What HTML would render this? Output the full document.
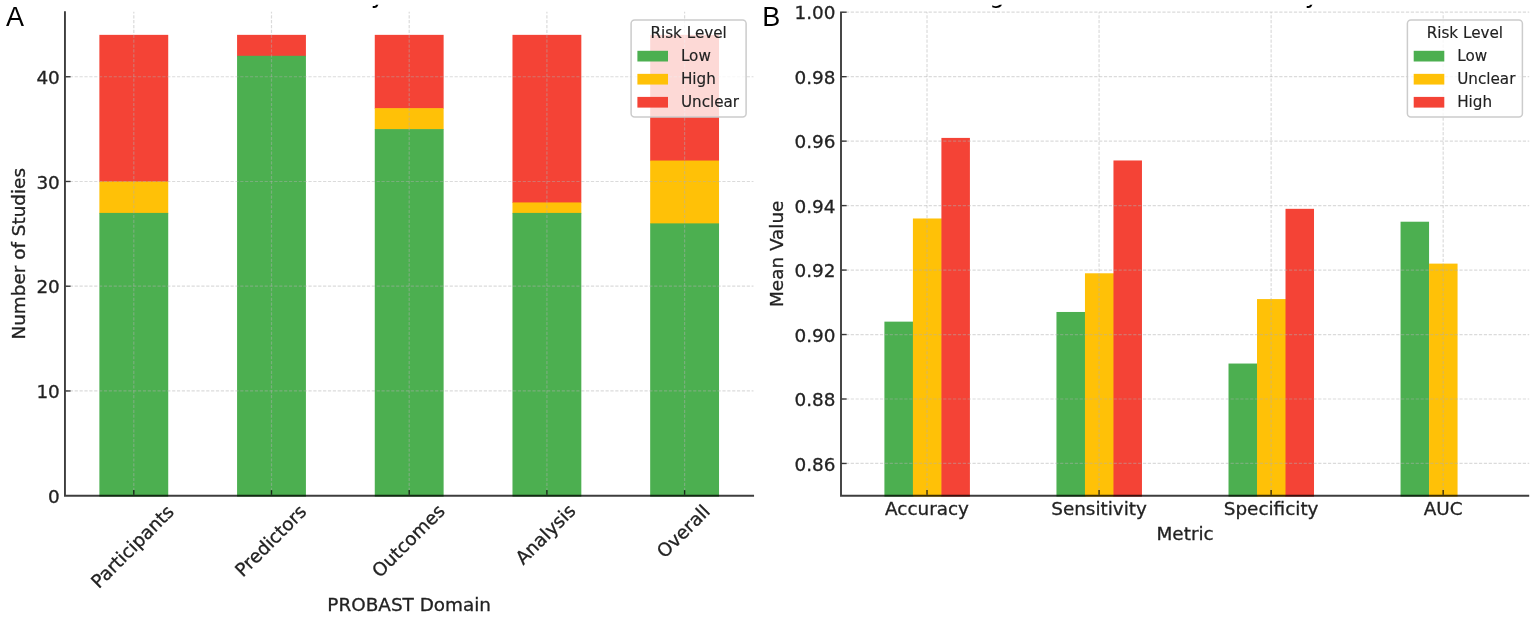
<!DOCTYPE html>
<html lang="en">
<head>
<meta charset="utf-8">
<title>Risk of bias charts</title>
<style>
html,body{margin:0;padding:0;background:#fff;}
body{width:1535px;height:621px;overflow:hidden;}
svg{display:block;}
text{font-family:"DejaVu Sans","Liberation Sans",sans-serif;fill:#222222;stroke:#222222;stroke-width:0.3px;}
.t{font-size:18.4px;}
.l{font-size:15.2px;stroke-width:0.15px;}
.h{font-size:24.6px;fill:#000;stroke:none;}
.p{font-family:"Liberation Sans",sans-serif;font-size:27px;fill:#000;stroke:none;}
.g{stroke:#b0b0b0;stroke-width:1.2;stroke-dasharray:3.2 1.67;stroke-opacity:0.45;fill:none;}
.s{stroke:#000000;stroke-opacity:0.76;stroke-width:1.9;fill:none;}
.k{stroke:#000000;stroke-opacity:0.76;stroke-width:1.4;fill:none;}
</style>
</head>
<body>
<svg width="1535" height="621" viewBox="0 0 1535 621">
<defs><clipPath id="tc"><rect x="0" y="4.8" width="1535" height="8"/></clipPath></defs>
<rect x="0" y="0" width="1535" height="621" fill="#ffffff"/>
<g id="chartA">
<rect x="99.38" y="34.85" width="68.85" height="147.23" fill="#f44336"/>
<rect x="99.38" y="181.48" width="68.85" height="32.02" fill="#ffc107"/>
<rect x="99.38" y="212.91" width="68.85" height="283.69" fill="#4caf50"/>
<rect x="237.07" y="34.85" width="68.85" height="21.55" fill="#f44336"/>
<rect x="237.07" y="55.8" width="68.85" height="440.8" fill="#4caf50"/>
<rect x="374.77" y="34.85" width="68.85" height="73.92" fill="#f44336"/>
<rect x="374.77" y="108.17" width="68.85" height="21.55" fill="#ffc107"/>
<rect x="374.77" y="129.11" width="68.85" height="367.49" fill="#4caf50"/>
<rect x="512.48" y="34.85" width="68.85" height="168.18" fill="#f44336"/>
<rect x="512.48" y="202.43" width="68.85" height="11.07" fill="#ffc107"/>
<rect x="512.48" y="212.91" width="68.85" height="283.69" fill="#4caf50"/>
<rect x="650.18" y="34.85" width="68.85" height="126.29" fill="#f44336"/>
<rect x="650.18" y="160.54" width="68.85" height="63.44" fill="#ffc107"/>
<rect x="650.18" y="223.38" width="68.85" height="273.22" fill="#4caf50"/>
<line class="g" x1="133.8" y1="495.7" x2="133.8" y2="11.85"/>
<line class="g" x1="271.5" y1="495.7" x2="271.5" y2="11.85"/>
<line class="g" x1="409.2" y1="495.7" x2="409.2" y2="11.85"/>
<line class="g" x1="546.9" y1="495.7" x2="546.9" y2="11.85"/>
<line class="g" x1="684.6" y1="495.7" x2="684.6" y2="11.85"/>
<line class="g" x1="64.95" y1="390.96" x2="753.45" y2="390.96"/>
<line class="g" x1="64.95" y1="286.22" x2="753.45" y2="286.22"/>
<line class="g" x1="64.95" y1="181.48" x2="753.45" y2="181.48"/>
<line class="g" x1="64.95" y1="76.75" x2="753.45" y2="76.75"/>
<line class="k" x1="133.8" y1="494.75" x2="133.8" y2="490.1"/>
<line class="k" x1="271.5" y1="494.75" x2="271.5" y2="490.1"/>
<line class="k" x1="409.2" y1="494.75" x2="409.2" y2="490.1"/>
<line class="k" x1="546.9" y1="494.75" x2="546.9" y2="490.1"/>
<line class="k" x1="684.6" y1="494.75" x2="684.6" y2="490.1"/>
<line class="k" x1="65.9" y1="390.96" x2="70.55" y2="390.96"/>
<line class="k" x1="65.9" y1="286.22" x2="70.55" y2="286.22"/>
<line class="k" x1="65.9" y1="181.48" x2="70.55" y2="181.48"/>
<line class="k" x1="65.9" y1="76.75" x2="70.55" y2="76.75"/>
<polyline class="s" points="64.95,11.15 64.95,495.7 754.05,495.7"/>
<text class="t" x="59.8" y="502.9" text-anchor="end">0</text>
<text class="t" x="59.8" y="398.16" text-anchor="end">10</text>
<text class="t" x="59.8" y="293.42" text-anchor="end">20</text>
<text class="t" x="59.8" y="188.68" text-anchor="end">30</text>
<text class="t" x="59.8" y="83.95" text-anchor="end">40</text>
<text class="t" transform="translate(131.9 546.1) rotate(-45)" text-anchor="middle" y="7">Participants</text>
<text class="t" transform="translate(270.2 540.3) rotate(-45)" text-anchor="middle" y="7">Predictors</text>
<text class="t" transform="translate(407.9 540.4) rotate(-45)" text-anchor="middle" y="7">Outcomes</text>
<text class="t" transform="translate(545 533.8) rotate(-45)" text-anchor="middle" y="7">Analysis</text>
<text class="t" transform="translate(682.9 530.9) rotate(-45)" text-anchor="middle" y="7">Overall</text>
<text class="t" x="409.2" y="611.3" text-anchor="middle">PROBAST Domain</text>
<text class="t" transform="translate(24.8 253.8) rotate(-90)" text-anchor="middle">Number of Studies</text>
<rect x="631.1" y="20" width="115" height="97" rx="3.5" ry="3.5" fill="#ffffff" fill-opacity="0.8" stroke="#cccccc" stroke-width="1.5"/>
<text class="l" x="688.6" y="38.1" text-anchor="middle">Risk Level</text>
<rect x="637.4" y="50.8" width="30.6" height="10.7" fill="#4caf50"/>
<text class="l" x="680.9" y="61.1">Low</text>
<rect x="637.4" y="73.85" width="30.6" height="10.7" fill="#ffc107"/>
<text class="l" x="680.9" y="84.15">High</text>
<rect x="637.4" y="96.9" width="30.6" height="10.7" fill="#f44336"/>
<text class="l" x="680.9" y="107.2">Unclear</text>
<text class="h" clip-path="url(#tc)" x="370.7" y="3.3">y</text>
<text class="p" x="5.9" y="25.9">A</text>
</g>
<g id="chartB">
<rect x="884.41" y="321.64" width="29" height="174.96" fill="#4caf50"/>
<rect x="912.91" y="218.49" width="29" height="278.11" fill="#ffc107"/>
<rect x="941.41" y="137.91" width="28.5" height="358.69" fill="#f44336"/>
<rect x="1056.46" y="311.97" width="29" height="184.63" fill="#4caf50"/>
<rect x="1084.96" y="273.29" width="29" height="223.31" fill="#ffc107"/>
<rect x="1113.46" y="160.47" width="28.5" height="336.13" fill="#f44336"/>
<rect x="1228.51" y="363.54" width="29" height="133.06" fill="#4caf50"/>
<rect x="1257.01" y="299.08" width="29" height="197.52" fill="#ffc107"/>
<rect x="1285.51" y="208.82" width="28.5" height="287.78" fill="#f44336"/>
<rect x="1400.56" y="221.72" width="28.5" height="274.88" fill="#4caf50"/>
<rect x="1429.06" y="263.62" width="28.5" height="232.98" fill="#ffc107"/>
<line class="g" x1="927.02" y1="495.7" x2="927.02" y2="12.2"/>
<line class="g" x1="1099.08" y1="495.7" x2="1099.08" y2="12.2"/>
<line class="g" x1="1271.12" y1="495.7" x2="1271.12" y2="12.2"/>
<line class="g" x1="1443.18" y1="495.7" x2="1443.18" y2="12.2"/>
<line class="g" x1="841" y1="463.47" x2="1529.2" y2="463.47"/>
<line class="g" x1="841" y1="399" x2="1529.2" y2="399"/>
<line class="g" x1="841" y1="334.53" x2="1529.2" y2="334.53"/>
<line class="g" x1="841" y1="270.07" x2="1529.2" y2="270.07"/>
<line class="g" x1="841" y1="205.6" x2="1529.2" y2="205.6"/>
<line class="g" x1="841" y1="141.13" x2="1529.2" y2="141.13"/>
<line class="g" x1="841" y1="76.67" x2="1529.2" y2="76.67"/>
<line class="g" x1="841" y1="12.2" x2="1529.2" y2="12.2"/>
<line class="k" x1="927.02" y1="494.75" x2="927.02" y2="490.1"/>
<line class="k" x1="1099.08" y1="494.75" x2="1099.08" y2="490.1"/>
<line class="k" x1="1271.12" y1="494.75" x2="1271.12" y2="490.1"/>
<line class="k" x1="1443.18" y1="494.75" x2="1443.18" y2="490.1"/>
<line class="k" x1="841.95" y1="463.47" x2="846.6" y2="463.47"/>
<line class="k" x1="841.95" y1="399" x2="846.6" y2="399"/>
<line class="k" x1="841.95" y1="334.53" x2="846.6" y2="334.53"/>
<line class="k" x1="841.95" y1="270.07" x2="846.6" y2="270.07"/>
<line class="k" x1="841.95" y1="205.6" x2="846.6" y2="205.6"/>
<line class="k" x1="841.95" y1="141.13" x2="846.6" y2="141.13"/>
<line class="k" x1="841.95" y1="76.67" x2="846.6" y2="76.67"/>
<line class="k" x1="841.95" y1="12.2" x2="846.6" y2="12.2"/>
<polyline class="s" points="841,11.5 841,495.7 1529.2,495.7"/>
<text class="t" x="835.5" y="470.67" text-anchor="end">0.86</text>
<text class="t" x="835.5" y="406.2" text-anchor="end">0.88</text>
<text class="t" x="835.5" y="341.73" text-anchor="end">0.90</text>
<text class="t" x="835.5" y="277.27" text-anchor="end">0.92</text>
<text class="t" x="835.5" y="212.8" text-anchor="end">0.94</text>
<text class="t" x="835.5" y="148.33" text-anchor="end">0.96</text>
<text class="t" x="835.5" y="83.87" text-anchor="end">0.98</text>
<text class="t" x="835.5" y="19.4" text-anchor="end">1.00</text>
<text class="t" x="927.02" y="515.4" text-anchor="middle">Accuracy</text>
<text class="t" x="1099.08" y="515.4" text-anchor="middle">Sensitivity</text>
<text class="t" x="1271.12" y="515.4" text-anchor="middle">Specificity</text>
<text class="t" x="1443.18" y="515.4" text-anchor="middle">AUC</text>
<text class="t" x="1185.1" y="539.9" text-anchor="middle">Metric</text>
<text class="t" transform="translate(783.2 253.8) rotate(-90)" text-anchor="middle">Mean Value</text>
<rect x="1407.4" y="20" width="115" height="97" rx="3.5" ry="3.5" fill="#ffffff" fill-opacity="0.8" stroke="#cccccc" stroke-width="1.5"/>
<text class="l" x="1464.9" y="38.1" text-anchor="middle">Risk Level</text>
<rect x="1413.7" y="50.8" width="30.6" height="10.7" fill="#4caf50"/>
<text class="l" x="1457.2" y="61.1">Low</text>
<rect x="1413.7" y="73.85" width="30.6" height="10.7" fill="#ffc107"/>
<text class="l" x="1457.2" y="84.15">Unclear</text>
<rect x="1413.7" y="96.9" width="30.6" height="10.7" fill="#f44336"/>
<text class="l" x="1457.2" y="107.2">High</text>
<text class="h" clip-path="url(#tc)" x="989.3" y="3.3">g</text>
<text class="h" clip-path="url(#tc)" x="1304.7" y="3.3">y</text>
<text class="p" x="762.3" y="25.8">B</text>
</g>
</svg>
</body>
</html>
